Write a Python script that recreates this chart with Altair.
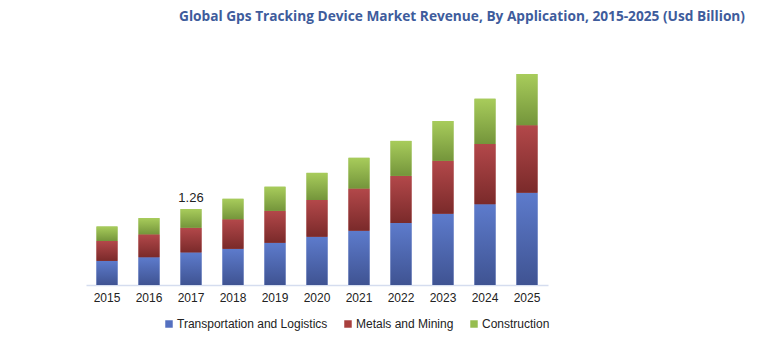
import altair as alt
import pandas as pd

years = ["2015", "2016", "2017", "2018", "2019", "2020", "2021", "2022", "2023", "2024", "2025"]
series_names = ["Transportation and Logistics", "Metals and Mining", "Construction"]
transport = [0.40, 0.46, 0.54, 0.60, 0.70, 0.80, 0.90, 1.03, 1.18, 1.34, 1.53]
metals = [0.33, 0.38, 0.41, 0.49, 0.53, 0.61, 0.70, 0.78, 0.88, 1.00, 1.12]
construction = [0.24, 0.27, 0.31, 0.34, 0.40, 0.45, 0.51, 0.58, 0.66, 0.75, 0.85]
annot_years = ["2017"]
annot_text = ["1.26"]

solid_colors = ["#5470c0", "#a83f3d", "#96bd50"]
gradients = [
    ("#5d7bcc", "#3f5392"),
    ("#b3484a", "#7a2a2a"),
    ("#a8cc5b", "#74953b"),
]

rows = []
for i, s in enumerate(series_names):
    vals = [transport, metals, construction][i]
    for y, v in zip(years, vals):
        rows.append({"year": y, "series": s, "order": i, "value": v})
df = pd.DataFrame(rows)

totals = {y: t + m + c for y, t, m, c in zip(years, transport, metals, construction)}
annot_df = pd.DataFrame({"year": annot_years, "label": annot_text,
                         "total": [totals[y] for y in annot_years]})

x_enc = alt.X("year:N", sort=years,
              scale=alt.Scale(paddingInner=0.5, paddingOuter=0.25),
              axis=alt.Axis(title=None, labelAngle=0, ticks=False, domainColor="#d5ddef",
                            domainWidth=1.5, labelFont="Liberation Sans", labelFontSize=12,
                            labelColor="#222222", labelPadding=7, grid=False))
y_scale = alt.Scale(domain=[0, 3.5], nice=False)

base = alt.Chart(df).transform_stack(
    stack="value", groupby=["year"], as_=["v0", "v1"],
    sort=[alt.SortField("order", order="ascending")]
)

legend_layer = base.mark_bar().encode(
    x=x_enc,
    y=alt.Y("v1:Q", scale=y_scale, axis=None),
    y2="v0:Q",
    color=alt.Color("series:N", sort=series_names,
                    scale=alt.Scale(domain=series_names, range=solid_colors),
                    legend=alt.Legend(title=None, orient="none", direction="horizontal",
                                      legendX=77, legendY=244, padding=0, symbolType="square",
                                      symbolSize=56, symbolStrokeWidth=0,
                                      labelFont="Liberation Sans", labelFontSize=12,
                                      labelColor="#222222", labelOffset=2,
                                      columnPadding=14)),
)

layers = [legend_layer]
for i, s in enumerate(series_names):
    top, bottom = gradients[i]
    grad = {"gradient": "linear", "x1": 0, "y1": 0, "x2": 0, "y2": 1,
            "stops": [{"offset": 0, "color": top}, {"offset": 1, "color": bottom}]}
    layers.append(
        base.transform_filter(alt.datum.series == s).mark_bar(color=grad).encode(
            x=x_enc, y=alt.Y("v1:Q", scale=y_scale, axis=None), y2="v0:Q"
        )
    )

annot = alt.Chart(annot_df).mark_text(
    baseline="bottom", dy=-4, font="Liberation Sans", fontSize=13, color="#222222"
).encode(x=x_enc, y=alt.Y("total:Q", scale=y_scale, axis=None), text="label:N")
layers.append(annot)

chart = alt.layer(*layers).properties(
    width=462, height=211,
    background="white",
    autosize=alt.AutoSizeParams(type="none"),
    padding={"left": 86, "top": 74, "right": 211, "bottom": 59},
    title=alt.TitleParams(
        text="Global Gps Tracking Device Market Revenue, By Application, 2015-2025 (Usd Billion)",
        anchor="end", frame="group", dx=197, offset=50, font="Open Sans", fontSize=13.7,
        fontWeight="bold", color="#3e5c9c"),
).configure_view(strokeWidth=0, stroke="transparent").configure_axis(grid=False)

chart.save("out.html", embed_options={"renderer": "svg", "actions": False})
